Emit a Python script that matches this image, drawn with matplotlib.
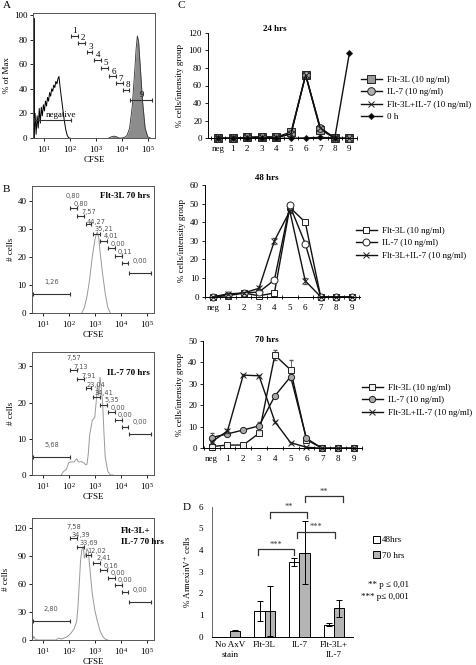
import numpy as np
import matplotlib
matplotlib.use("Agg")
import matplotlib.pyplot as plt
from matplotlib.patches import Patch

plt.rcParams['font.family'] = ['Liberation Serif', 'DejaVu Serif']
plt.rcParams['mathtext.fontset'] = 'stix'
plt.rcParams['font.size'] = 6.5
plt.rcParams['axes.linewidth'] = 0.7

W, H = 477, 665

# ---- panel A / B : flow histograms (log10 CFSE, counts) ----
gates_x = [(0.62, 2.03), (2.03, 2.32), (2.32, 2.6), (2.65, 2.87), (2.92, 3.19),
           (3.21, 3.46), (3.5, 3.77), (3.79, 4.03), (4.05, 4.29), (4.31, 5.18)]

a_neg_x = [0.58, 0.58, 0.62, 0.66, 0.70, 0.74, 0.78, 0.82, 0.86, 0.90, 0.94, 0.98, 1.02, 1.06,
           1.10, 1.14, 1.18, 1.22, 1.26, 1.30, 1.34, 1.38, 1.42, 1.46, 1.50, 1.54, 1.58, 1.62,
           1.66, 1.72, 1.78, 1.84, 1.90, 1.96, 2.0]
a_neg_y = [0, 97, 5, 20, 3, 18, 8, 24, 12, 25, 18, 27, 22, 30, 26, 33, 30, 37, 34, 40, 38, 43,
           41, 46, 44, 48, 50, 42, 35, 25, 15, 7, 2, 0, 0]
a_pos_x = [3.5, 3.6, 3.7, 3.8, 3.9, 4.0, 4.1, 4.2, 4.3, 4.4, 4.5, 4.55, 4.6, 4.65, 4.7, 4.8,
           4.9, 5.0, 5.1]
a_pos_y = [0, 1, 1.5, 1, 0, 0, 0.5, 2, 8, 25, 55, 72, 83, 78, 62, 30, 8, 1, 0]
a_gate_y = [15, 83, 77.5, 70, 63.5, 57, 50, 44.6, 39, 31]
a_gate_lbl = ['negative', '1', '2', '3', '4', '5', '6', '7', '8', '9']

b1_x = [2.5, 2.6, 2.7, 2.8, 2.9, 3.0, 3.05, 3.1, 3.15, 3.2, 3.3, 3.4, 3.5, 3.6]
b1_y = [0, 2, 6, 12, 20, 26, 28, 29, 27, 22, 14, 7, 2, 0]
b1_gate_y = [6.8, 37.6, 34.6, 31.7, 28.2, 25.8, 23.1, 20.5, 17.7, 14.2]
b1_lbl = ['1,26', '0,80', '0,80', '7,57', '44,27', '35,21', '4,01', '0,00', '0,11', '0,00']

b2_x = [1.7, 1.75, 1.8, 1.9, 1.95, 2.0, 2.1, 2.2, 2.3, 2.35, 2.4, 2.5, 2.6, 2.65, 2.7, 2.75,
        2.8, 2.85, 2.9, 3.0, 3.05, 3.1, 3.15, 3.2, 3.25, 3.3, 3.35, 3.4, 3.5, 3.6, 3.7]
b2_y = [0, 0.5, 1, 1.5, 2.5, 3.5, 3.6, 3.6, 4.5, 3.8, 3.6, 3.7, 3.2, 2.8, 3, 6, 11, 13, 15,
        16, 20, 25, 22, 27, 24, 20, 12, 5, 1, 0, 0]
b2_gate_y = [5.0, 29, 26.5, 24.1, 21.6, 19.4, 17.3, 15.1, 13.2, 11.4]
b2_lbl = ['5,68', '7,57', '7,13', '7,91', '23,04', '34,41', '5,35', '0,00', '0,00', '0,00']

b3_x = [0.6, 0.65, 0.7, 0.8, 1.5, 1.6, 1.7, 1.8, 1.9, 2.0, 2.1, 2.2, 2.3, 2.35, 2.4, 2.45,
        2.5, 2.55, 2.6, 2.65, 2.7, 2.75, 2.8, 2.85, 2.9, 3.0, 3.1, 3.2, 3.3, 3.4, 3.5]
b3_y = [0, 4, 1, 0, 0, 2, 1, 2, 3, 5, 8, 12, 20, 35, 60, 85, 97, 100, 88, 92, 98, 95, 80,
        65, 50, 32, 20, 10, 4, 1, 0]
b3_gate_y = [20.3, 109, 100, 91.5, 83, 75.4, 66.5, 59.4, 51.6, 41]
b3_lbl = ['2,80', '7,58', '34,39', '33,69', '12,02', '2,41', '0,16', '0,00', '0,00', '0,00']

# ---- panel C ----
cats = ['neg', '1', '2', '3', '4', '5', '6', '7', '8', '9']
h24_flt = [0, 0, 1, 1.5, 1.5, 7, 72, 10, 0, 0]
h24_il7 = [0, 0, 1, 1.5, 1, 5, 72, 12, 0, 0]
h24_comb = [0, 0, 1, 1, 1, 5, 72, 12, 0, 0]
h24_0h = [0, 0, 0, 0, 0, 0, 0.5, 1, 0.5, 97]

h48_flt = [0, 0.5, 2, 0.5, 2, 48, 40, 0, 0, 0]
h48_il7 = [0, 1, 2, 2.5, 9, 49, 28.5, 0, 0, 0]
h48_comb = [0, 1.5, 2, 4.5, 30, 46, 8.5, 0, 0, 0]
h48_comb_err = [0, 0.5, 0.5, 1, 1.5, 1, 1.5, 0, 0, 0]

h70_flt = [0.8, 1.5, 1.5, 7, 43.3, 36.4, 4, 0, 0, 0]
h70_flt_err = [0.5, 0, 0, 0.5, 2.5, 4.5, 1, 0, 0, 0]
h70_il7 = [5, 6.7, 8.5, 10.4, 24.3, 33.3, 4.6, 0, 0, 0]
h70_il7_err = [2, 0.5, 0.5, 2, 0.5, 1, 0.5, 0, 0, 0]
h70_comb = [3, 8, 34, 33.7, 12.4, 2.6, 0.5, 0, 0, 0]
h70_comb_err = [0.5, 1, 0.5, 0.5, 0.5, 0.5, 0, 0, 0, 0]

# ---- panel D ----
d_groups = ['No AxV\nstain', 'Flt-3L', 'IL-7', 'Flt-3L+\nIL-7']
d_48 = [np.nan, 1.2, 3.45, 0.56]
d_48_err = [0, 0.47, 0.18, 0.06]
d_70 = [0.27, 1.18, 3.88, 1.31]
d_70_err = [0.02, 1.15, 1.46, 0.38]
sig = [(0.8, 1.86, 4.05, '***'), (1.16, 2.22, 5.77, '**'),
       (1.93, 3.02, 4.85, '***'), (2.15, 3.25, 6.5, '**')]


def box(l, t, r, b):
    return [l / W, 1 - b / H, (r - l) / W, (b - t) / H]


fig = plt.figure(figsize=(W / 100, H / 100), dpi=100)


def flow_axes(rect, ytop, yticks, ylabel):
    ax = fig.add_axes(rect)
    ax.set_xscale('log')
    ax.set_xlim(10 ** 0.58, 10 ** 5.28)
    ax.set_ylim(0, ytop)
    ax.set_yticks(yticks)
    ax.set_xticks([1e1, 1e2, 1e3, 1e4, 1e5])
    ax.tick_params(labelsize=6.5, length=2.5, width=0.6, pad=1.5)
    ax.tick_params(which='minor', length=1.5, width=0.5)
    ax.set_xlabel('CFSE', fontsize=6.5, labelpad=1)
    ax.set_ylabel(ylabel, fontsize=6.5, labelpad=2)
    for s in ax.spines.values():
        s.set_color('#555555')
    return ax


def gates(ax, ys, labels, dy, lcol, fs, font=None, shift=None):
    for i, ((g0, g1), y, t) in enumerate(zip(gates_x, ys, labels)):
        ax.plot([10 ** g0, 10 ** g1], [y, y], color='#333333', lw=0.8,
                marker='|', ms=3.5, mew=0.8)
        xc = (g0 + g1) / 2
        if shift is not None:
            xc += shift[i]
        ax.text(10 ** xc, y + dy, t, ha='center', va='bottom', fontsize=fs, color=lcol,
                family=font)


# A
axA = flow_axes(box(33, 13, 155, 138), 101.6, [0, 20, 40, 60, 80, 100], '% of Max')
axA.plot(10 ** np.array(a_neg_x), a_neg_y, color='k', lw=0.7)
axA.plot(10 ** np.array(a_neg_x[:2]), a_neg_y[:2], color='k', lw=2.0)
axA.fill_between(10 ** np.array(a_pos_x), a_pos_y, color='#8c8c8c', lw=0)
axA.plot(10 ** np.array(a_pos_x), a_pos_y, color='#333333', lw=0.6)
gates(axA, a_gate_y, a_gate_lbl, 0.5, 'k', 6.5,
      shift=[0.35, 0, 0.05, 0.05, 0.05, 0.05, 0.05, 0.05, 0.05, 0.05])

# B
axB1 = flow_axes(box(32, 186, 154, 313), 45.4, [0, 10, 20, 30, 40], '# cells')
axB1.plot(10 ** np.array(b1_x), b1_y, color='#999999', lw=0.7)
gates(axB1, b1_gate_y, b1_lbl, 3.2, '#555555', 4.8, 'DejaVu Sans')
axB1.text(0.97, 0.95, 'Flt-3L 70 hrs', transform=axB1.transAxes, ha='right', va='top',
          fontsize=6.5, fontweight='bold')

axB2 = flow_axes(box(32, 352, 154, 475), 34, [0, 10, 20, 30], '# cells')
axB2.plot(10 ** np.array(b2_x), b2_y, color='#999999', lw=0.7)
gates(axB2, b2_gate_y, b2_lbl, 2.5, '#555555', 4.8, 'DejaVu Sans')
axB2.text(0.97, 0.86, 'IL-7 70 hrs', transform=axB2.transAxes, ha='right', va='top',
          fontsize=6.5, fontweight='bold')

axB3 = flow_axes(box(32, 518, 154, 640), 131, [0, 30, 60, 90, 120], '# cells')
axB3.plot(10 ** np.array(b3_x), b3_y, color='#999999', lw=0.7)
gates(axB3, b3_gate_y, b3_lbl, 9.5, '#555555', 4.8, 'DejaVu Sans')
axB3.text(0.73, 0.93, 'Flt-3L+\nIL-7 70 hrs', transform=axB3.transAxes, ha='left', va='top',
          fontsize=6.5, fontweight='bold', linespacing=1.5)


# C
def line_axes(rect, xl, ytop, step, title, tx, ty):
    ax = fig.add_axes(rect)
    ax.set_xlim(*xl)
    ax.set_ylim(0, ytop)
    ax.set_yticks(np.arange(0, ytop + 1, step))
    ax.set_xticks(range(10))
    ax.set_xticklabels(cats)
    ax.set_xticks(np.arange(-0.5, 9.6, 1), minor=True)
    ax.spines['top'].set_visible(False)
    ax.spines['right'].set_visible(False)
    ax.tick_params(axis='x', which='major', length=0, pad=5, labelsize=6.5)
    ax.tick_params(axis='x', which='minor', length=2.5, direction='inout', width=0.6)
    ax.tick_params(axis='y', length=2.5, width=0.6, labelsize=6.5, pad=2)
    ax.set_ylabel('% cells/intensity group', fontsize=6.5, labelpad=3)
    ax.text(tx, ty, title, transform=ax.transAxes, ha='center', va='bottom',
            fontsize=6.5, fontweight='bold')
    return ax


def series(ax, y, err, marker, ms, mfc, label):
    if err is not None:
        ax.errorbar(xi, y, yerr=err, fmt='none', ecolor='#555555', elinewidth=0.6,
                    capsize=1.5, clip_on=False)
    ax.plot(xi, y, color='#111111', lw=1.0, marker=marker, ms=ms, mfc=mfc,
            mec='#222222', mew=0.7, label=label, clip_on=False)


xi = np.arange(10)

axC1 = line_axes(box(208.3, 32.7, 356.7, 138.3), (-0.67, 9.34), 120, 20, '24 hrs', 0.45, 1.0)
series(axC1, h24_flt, None, 's', 6, '#9a9a9a', 'Flt-3L (10 ng/ml)')
series(axC1, h24_il7, None, 'o', 5.5, '#b0b0b0', 'IL-7 (10 ng/ml)')
series(axC1, h24_comb, None, 'x', 4, 'none', 'Flt-3L+IL-7 (10 ng/ml)')
series(axC1, h24_0h, None, 'D', 3, 'k', '0 h')

axC2 = line_axes(box(205, 185, 360, 296.7), (-0.45, 9.55), 60, 10, '48 hrs', 0.4, 1.03)
series(axC2, h48_flt, None, 's', 4.5, 'white', 'Flt-3L (10 ng/ml)')
series(axC2, h48_il7, None, 'o', 5, 'white', 'IL-7 (10 ng/ml)')
series(axC2, h48_comb, h48_comb_err, 'x', 4, 'none', 'Flt-3L+IL-7 (10 ng/ml)')

axC3 = line_axes(box(203.3, 340.7, 361.7, 448.3), (-0.53, 9.42), 50, 10, '70 hrs', 0.4, 0.97)
series(axC3, h70_flt, h70_flt_err, 's', 4.5, '#f0f0f0', 'Flt-3L (10 ng/ml)')
series(axC3, h70_il7, h70_il7_err, 'o', 4.5, '#a8a8a8', 'IL-7 (10 ng/ml)')
series(axC3, h70_comb, h70_comb_err, 'x', 4, 'none', 'Flt-3L+IL-7 (10 ng/ml)')

leg_kw = dict(loc='upper left', bbox_transform=fig.transFigure, frameon=False, fontsize=6.5,
              handlelength=2.4, handletextpad=0.5, labelspacing=0.45, borderaxespad=0)
axC1.legend(bbox_to_anchor=(357 / W, 1 - 72 / H), **leg_kw)
axC2.legend(bbox_to_anchor=(352 / W, 1 - 223 / H), **leg_kw)
axC3.legend(bbox_to_anchor=(358 / W, 1 - 380 / H), **leg_kw)

# D
axD = fig.add_axes(box(211.7, 506.7, 352.7, 636.7))
gx = np.arange(4)
axD.bar(gx - 0.15, d_48, width=0.3, color='white', edgecolor='k', lw=0.7,
        yerr=d_48_err, capsize=2, error_kw=dict(elinewidth=0.7, capthick=0.7))
axD.bar(gx + 0.15, d_70, width=0.3, color='#b4b4b4', edgecolor='k', lw=0.7,
        yerr=d_70_err, capsize=2, error_kw=dict(elinewidth=0.7, capthick=0.7))
axD.set_xlim(-0.53, 3.54)
axD.set_ylim(0, 6)
axD.set_yticks(range(7))
axD.set_xticks(gx)
axD.set_xticklabels(d_groups, linespacing=1.4)
axD.spines['top'].set_visible(False)
axD.spines['right'].set_visible(False)
axD.spines['left'].set_color('#666666')
axD.tick_params(axis='x', length=0, pad=3, labelsize=6.5)
axD.tick_params(axis='y', length=0, pad=6, labelsize=6.5)
axD.set_ylabel('% AnnexinV$^{+}$ cells', fontsize=6.5, labelpad=4)
for x0, x1, y, s in sig:
    axD.plot([x0, x0, x1, x1], [y - 0.28, y, y, y - 0.28], color='#333333', lw=0.9,
             clip_on=False)
    axD.text((x0 + x1) / 2, y + 0.02, s, ha='center', va='bottom', fontsize=6,
             color='#333333')
axD.legend(handles=[Patch(fc='white', ec='k', lw=0.7, label='48hrs'),
                    Patch(fc='#b4b4b4', ec='k', lw=0.7, label='70 hrs')],
           loc='upper left', bbox_to_anchor=(369 / W, 1 - 532 / H),
           bbox_transform=fig.transFigure, frameon=False, fontsize=6.5,
           handlelength=0.8, handleheight=0.8, handletextpad=0.2, labelspacing=0.8,
           borderaxespad=0)
fig.text(409 / W, 1 - 585 / H, '** p \u2264 0,01', ha='right', va='center', fontsize=6.5)
fig.text(409 / W, 1 - 597 / H, '*** p\u2264 0,001', ha='right', va='center', fontsize=6.5)

# panel letters
for t, x, y in [('A', 3, 5), ('B', 3, 190), ('C', 178, 5), ('D', 183, 507)]:
    fig.text(x / W, 1 - y / H, t, fontsize=8, ha='left', va='center')

fig.savefig('out.png', dpi=100)
